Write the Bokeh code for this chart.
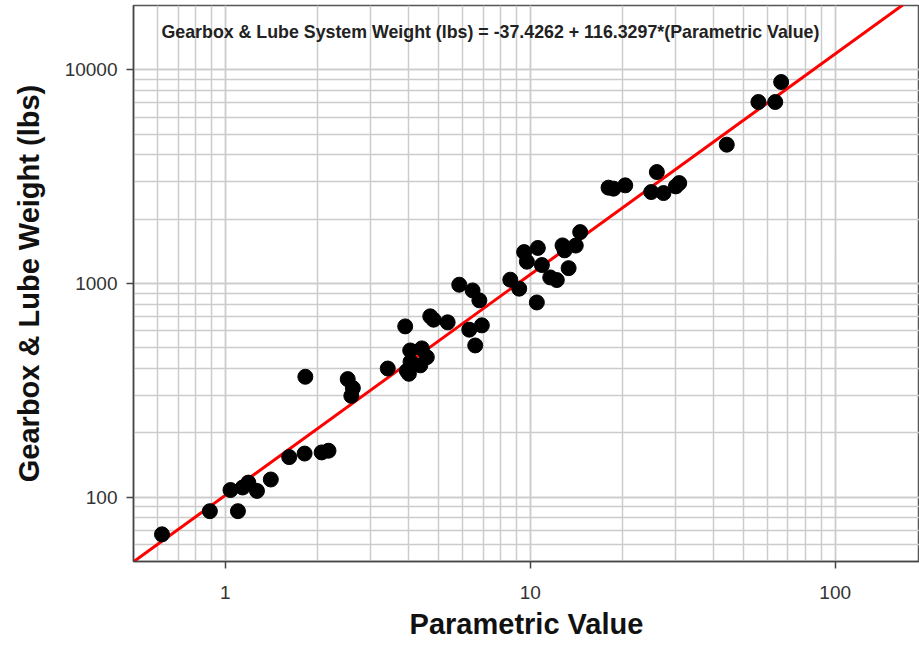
from bokeh.plotting import figure
from bokeh.models import Label, LogTicker, CustomJSTickFormatter
from bokeh.embed import file_html
from bokeh.resources import INLINE
import numpy as np

# Data
param_value = [0.62, 0.89, 1.10, 1.04, 1.14, 1.19, 1.27, 1.41, 1.62, 1.82, 2.07, 2.18,
               1.83, 2.52, 2.62, 2.59, 3.41, 3.89, 3.94, 4.04, 4.41, 4.58, 4.36, 4.05,
               4.00, 4.70, 4.82, 5.36, 5.85, 6.47, 6.81, 6.31, 6.94, 6.60,
               8.60, 9.20, 9.55, 9.75, 10.59, 10.92, 10.51, 11.63, 12.22, 12.76, 12.96,
               14.10, 13.36, 14.58, 18.06, 18.75, 20.49, 26.01, 24.93, 27.35, 30.02,
               30.80, 44.1, 56.0, 63.6, 66.5]
weight_lbs = [67, 86, 86, 108, 111, 117, 107, 121, 154, 160, 162, 165,
              366, 357, 324, 298, 400, 630, 390, 486, 497, 452, 414, 430,
              378, 702, 677, 658, 987, 928, 834, 608, 637, 513,
              1042, 946, 1403, 1265, 1467, 1220, 815, 1068, 1038, 1508, 1429,
              1505, 1180, 1740, 2809, 2779, 2879, 3323, 2679, 2650, 2848,
              2951, 4464, 7069, 7069, 8768]

# Fitted trend line as drawn (straight on log-log axes)
fit_coef = 102.0
fit_exp = 1.033
fit_x = np.array([0.5, 200.0])
fit_y = fit_coef * fit_x ** fit_exp

equation_text = "Gearbox & Lube System Weight (lbs) = -37.4262 + 116.3297*(Parametric Value)"

p = figure(width=919, height=648, x_axis_type="log", y_axis_type="log",
           x_range=(0.5, 189), y_range=(50, 20000),
           output_backend="svg", toolbar_location=None,
           min_border_left=133, min_border_right=0, min_border_top=5, min_border_bottom=87)
p.background_fill_color = "white"
p.border_fill_color = "white"
p.outline_line_color = "#555555"
p.outline_line_width = 1.5

for ax in (p.xaxis, p.yaxis):
    ax.ticker = LogTicker(num_minor_ticks=10)
    ax.formatter = CustomJSTickFormatter(code="return String(Math.round(tick));")
    ax.axis_line_color = "#444444"
    ax.axis_line_width = 1.5
    ax.major_tick_out = 7
    ax.major_tick_in = 0
    ax.major_tick_line_color = "#444444"
    ax.major_tick_line_width = 1.5
    ax.minor_tick_out = 0
    ax.minor_tick_in = 0
    ax.major_label_text_font = "Liberation Sans"
    ax.major_label_text_font_size = "19px"
    ax.major_label_text_color = "#333333"
    ax.axis_label_text_font = "Liberation Sans"
    ax.axis_label_text_font_style = "bold"
    ax.axis_label_text_font_size = "29px"
    ax.axis_label_text_color = "#111111"

p.xaxis.major_label_standoff = 17
p.yaxis.major_label_standoff = 9
p.xaxis.axis_label = "Parametric Value"
p.yaxis.axis_label = "Gearbox & Lube Weight (lbs)"
p.xaxis.axis_label_standoff = 6
p.yaxis.axis_label_standoff = 17

for g in (p.xgrid, p.ygrid):
    g.grid_line_color = "#cccccc"
    g.grid_line_width = 1.5
    g.minor_grid_line_color = "#cccccc"
    g.minor_grid_line_width = 1.5

p.line(fit_x, fit_y, line_color="red", line_width=3)
p.scatter(param_value, weight_lbs, size=15, fill_color="black", line_color="black")

lab = Label(x=28, y=530, x_units="screen", y_units="screen", text=equation_text,
            text_font="Liberation Sans", text_font_style="bold", text_font_size="17.8px",
            text_color="#222222", text_baseline="alphabetic")
p.add_layout(lab)

open("out.html", "w").write(file_html(p, INLINE))
